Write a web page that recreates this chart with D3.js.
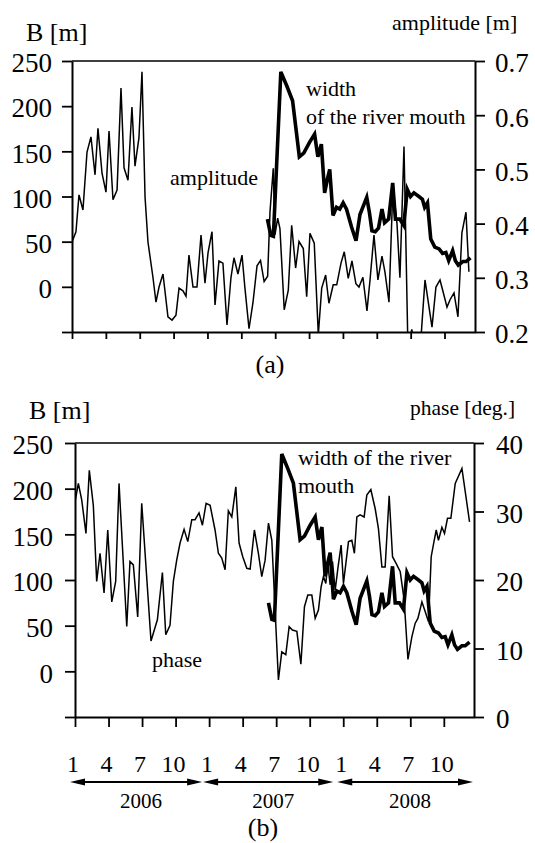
<!DOCTYPE html>
<html><head><meta charset="utf-8">
<script src="https://cdn.jsdelivr.net/npm/d3@7"></script>
<style>
body{margin:0;background:#fff;}
svg{display:block;}
text{font-family:"Liberation Serif","Times New Roman",serif;fill:#000;}
</style></head>
<body><svg id="c" width="535" height="843"></svg>
<script>
// ---- data (time in months since 1 Jan 2006) ----
const ampT = [0,0.35,0.62,0.97,1.33,1.68,2.04,2.30,2.66,3.01,3.28,3.63,3.99,4.34,4.61,4.96,5.31,5.58,5.93,6.20,6.47,6.73,7.17,7.44,7.71,8.06,8.50,8.86,9.21,9.48,9.83,10.10,10.36,10.72,11.07,11.43,11.78,12.05,12.40,12.67,13.02,13.37,13.73,14.08,14.35,14.70,15.06,15.32,15.68,16.03,16.39,16.70,17.02,17.33,17.54,17.83,17.98,18.22,18.42,18.80,19.16,19.46,19.81,20.11,20.49,20.79,21.08,21.46,21.82,22.12,22.47,22.76,23.14,23.45,23.83,24.12,24.47,24.80,25.15,25.42,25.77,26.13,26.40,26.75,27.10,27.46,27.72,28.08,28.43,28.79,29.05,29.41,29.76,30.10,30.45,30.85,31.27,31.89,32.24,32.60,32.90,33.22,33.50,33.84,34.19,34.54,34.90,35.16];
const ampV = [0.366,0.385,0.453,0.425,0.532,0.560,0.490,0.576,0.493,0.458,0.571,0.444,0.462,0.650,0.503,0.480,0.615,0.506,0.558,0.680,0.449,0.366,0.301,0.255,0.283,0.307,0.228,0.222,0.231,0.281,0.276,0.266,0.342,0.283,0.283,0.379,0.290,0.346,0.385,0.250,0.331,0.327,0.213,0.300,0.337,0.307,0.342,0.281,0.206,0.254,0.322,0.332,0.293,0.303,0.422,0.502,0.379,0.410,0.391,0.241,0.277,0.397,0.318,0.367,0.354,0.265,0.382,0.364,0.195,0.281,0.305,0.253,0.287,0.287,0.327,0.348,0.299,0.331,0.289,0.283,0.301,0.239,0.296,0.379,0.296,0.340,0.311,0.255,0.470,0.400,0.300,0.542,0.170,0.205,0.160,0.170,0.296,0.209,0.283,0.296,0.272,0.246,0.260,0.272,0.228,0.383,0.421,0.311];

const widthT = [17.31,17.61,17.84,18.50,19.04,19.54,20.14,20.53,21.04,21.49,21.78,22.09,22.38,22.62,22.83,23.12,23.43,23.72,24.02,24.32,24.77,25.16,25.51,26.11,26.35,26.57,26.86,27.15,27.46,27.69,28.05,28.41,28.65,29.03,29.39,29.70,29.99,30.29,30.73,31.04,31.24,31.49,31.78,32.14,32.52,32.83,33.12,33.37,33.72,33.96,34.22,34.62,34.91,35.30];
const widthV = [75,57,56,238,222,206,144,148,160,169,144,158,104,119,130,79,88,86,93,86,66,51,80,99,82,62,61,65,86,71,75,115,75,75,68,108,100,104,100,97,88,93,53,44,42,37,38,29,40,29,24,28,28,32];

const phaseT = [0,0.30,0.60,0.98,1.28,1.64,1.94,2.24,2.60,2.93,3.29,3.64,3.94,4.63,4.92,5.22,5.61,5.97,6.80,7.37,7.82,8.12,8.50,8.80,9.10,9.40,9.76,10.09,10.45,10.74,11.10,11.40,11.73,12.09,12.53,12.83,13.13,13.43,13.72,14.03,14.39,14.68,15.01,15.37,15.67,16.05,16.41,16.71,17.01,17.31,17.61,18.20,18.50,18.86,19.16,19.45,19.85,20.21,20.53,20.83,21.19,21.49,21.78,22.02,22.23,22.44,22.62,22.83,23.04,23.28,23.52,23.81,24.02,24.47,24.77,25.00,25.22,25.51,25.87,26.11,26.47,26.86,27.15,27.46,27.75,28.11,28.41,28.74,29.10,29.45,29.79,30.14,30.44,30.68,31.04,31.33,31.63,31.87,32.14,32.32,32.52,32.83,33.06,33.33,33.63,34.02,34.62,35.30];
const phaseV = [31.4,34.1,31.7,26.8,36.0,30.9,19.8,23.9,18.1,27.3,16.8,19.8,34.1,13.2,22.7,22.2,14.6,31.2,11.1,14.2,21.1,12.0,13.4,19.8,22.9,25.4,27.4,25.6,28.8,28.8,29.8,28.0,31.2,30.9,27.3,23.9,23.2,21.5,30.1,29.2,33.6,25.4,23.4,21.7,21.6,27.3,23.9,20.5,22.9,28.3,25.8,5.4,9.5,9.1,13.2,12.7,12.5,7.7,16.1,17.8,17.8,14.4,15.6,19.0,20.5,19.5,22.4,19.3,22.7,18.5,21.7,25.1,19.5,25.6,25.8,23.9,29.2,29.5,29.2,32.4,33.2,30.4,27.5,21.9,21.9,32.3,23.4,22.4,21.2,17.1,8.4,11.7,13.7,14.4,16.8,15.4,13.9,23.4,25.8,27.3,25.8,27.7,26.8,29.0,29.0,34.1,36.3,28.5];

const leftTicks = [-50,0,50,100,150,200,250];
const ampTicks = [0.2,0.3,0.4,0.5,0.6,0.7];
const phaseTicks = [0,10,20,30,40];
const monthTicks = [0,3,6,9,12,15,18,21,24,27,30,33];
const monthLabels = ["1","4","7","10","1","4","7","10","1","4","7","10"];
const years = ["2006","2007","2008"];

// ---- drawing ----
const svg = d3.select("#c");
const FONT = 27;

function panel(o){
  const g = svg.append("g");
  const x = d3.scaleLinear().domain([0,35.7]).range([o.x0,o.x1]);
  const yL = d3.scaleLinear().domain([-50,250]).range([o.yb,o.yt]);
  const yR = d3.scaleLinear().domain(o.rDomain).range([o.yb,o.yt]);
  const clipId = "clip"+o.id;
  svg.append("clipPath").attr("id",clipId).append("rect")
    .attr("x",o.x0).attr("y",o.yt).attr("width",o.x1-o.x0).attr("height",o.yb-o.yt);

  g.append("line").attr("x1",o.x0).attr("x2",o.x1).attr("y1",o.yt).attr("y2",o.yt)
    .attr("stroke","#000").attr("stroke-width",1.5);

  const ax = g.append("g").attr("transform",`translate(${o.x0},0)`)
    .call(d3.axisLeft(yL).tickValues(leftTicks).tickSize(10).tickSizeOuter(0).tickPadding(o.pad)
      .tickFormat(d=> d<0 ? "" : d));
  const axr = g.append("g").attr("transform",`translate(${o.x1},0)`)
    .call(d3.axisRight(yR).tickValues(o.rTicks).tickSize(10).tickSizeOuter(0).tickPadding(o.pad)
      .tickFormat(o.rFmt));
  const axb = g.append("g").attr("transform",`translate(0,${o.yb})`)
    .call(d3.axisBottom(x).tickValues(monthTicks).tickSize(o.bt).tickSizeOuter(0).tickFormat(""));
  [ax,axr,axb].forEach(a=>{
    a.selectAll("path.domain").attr("stroke","#000").attr("stroke-width",2);
    a.selectAll(".tick line").attr("stroke","#000").attr("stroke-width",1.8);
    a.selectAll(".tick text").attr("font-size",FONT).attr("font-family","Liberation Serif").attr("dy","0.4em").attr("fill","#000");
  });

  const pg = g.append("g").attr("clip-path",`url(#${clipId})`);
  const thin = d3.line().x(d=>x(d[0])).y(d=>yR(d[1]));
  pg.append("path").datum(d3.zip(o.tT,o.tV)).attr("d",thin)
    .attr("fill","none").attr("stroke","#000").attr("stroke-width",1.5).attr("stroke-linejoin","miter");
  const thick = d3.line().x(d=>x(d[0])).y(d=>yL(d[1]));
  pg.append("path").datum(d3.zip(widthT,widthV)).attr("d",thick)
    .attr("fill","none").attr("stroke","#000").attr("stroke-width",3.6).attr("stroke-linejoin","miter");
  return {g,x};
}

const A = panel({id:"a",x0:72,x1:475,yt:61,yb:332,rDomain:[0.2,0.7],rTicks:ampTicks,rFmt:d3.format(".1f"),
  tT:ampT,tV:ampV,pad:10,bt:7});
const B = panel({id:"b",x0:75,x1:474,yt:443,yb:717,rDomain:[0,40],rTicks:phaseTicks,rFmt:d=>d,
  tT:phaseT,tV:phaseV,pad:12,bt:10});

function txt(s,x,y,size,anchor){
  svg.append("text").attr("x",x).attr("y",y).attr("font-size",size)
    .attr("text-anchor",anchor||"start").text(s);
}
// panel (a) texts
txt("B [m]",26,41,26);
txt("amplitude [m]",392,30,22);
txt("amplitude",170,185,22);
txt("width",306,96,22);
txt("of the river mouth",306,124,22);
txt("(a)",270,373,26,"middle");
// panel (b) texts
txt("B [m]",29,419,26);
txt("phase [deg.]",410,415,21.5);
txt("width of the river",298,465,22);
txt("mouth",298,493,22);
txt("phase",152,667,22);

// month labels
svg.append("g").selectAll("text").data(monthTicks).join("text")
  .attr("x",(d,i)=>B.x(d)-2).attr("y",772).attr("font-size",24).attr("text-anchor","middle")
  .text((d,i)=>monthLabels[i]);

// year arrows
const segs = [[B.x(0)-5,B.x(12)-7],[B.x(12)-6,B.x(24)-10],[B.x(24)-6,B.x(35.7)-1]];
const ay = 782;
segs.forEach((s,i)=>{
  svg.append("line").attr("x1",s[0]+8).attr("x2",s[1]-8).attr("y1",ay).attr("y2",ay)
    .attr("stroke","#000").attr("stroke-width",2);
  svg.append("path").attr("d",`M${s[0]},${ay}L${s[0]+15},${ay-3.5}L${s[0]+15},${ay+3.5}Z`).attr("fill","#000");
  svg.append("path").attr("d",`M${s[1]},${ay}L${s[1]-15},${ay-3.5}L${s[1]-15},${ay+3.5}Z`).attr("fill","#000");
  txt(years[i],(s[0]+s[1])/2+5,808,21,"middle");
});
txt("(b)",263,836,26,"middle");
</script></body></html>
